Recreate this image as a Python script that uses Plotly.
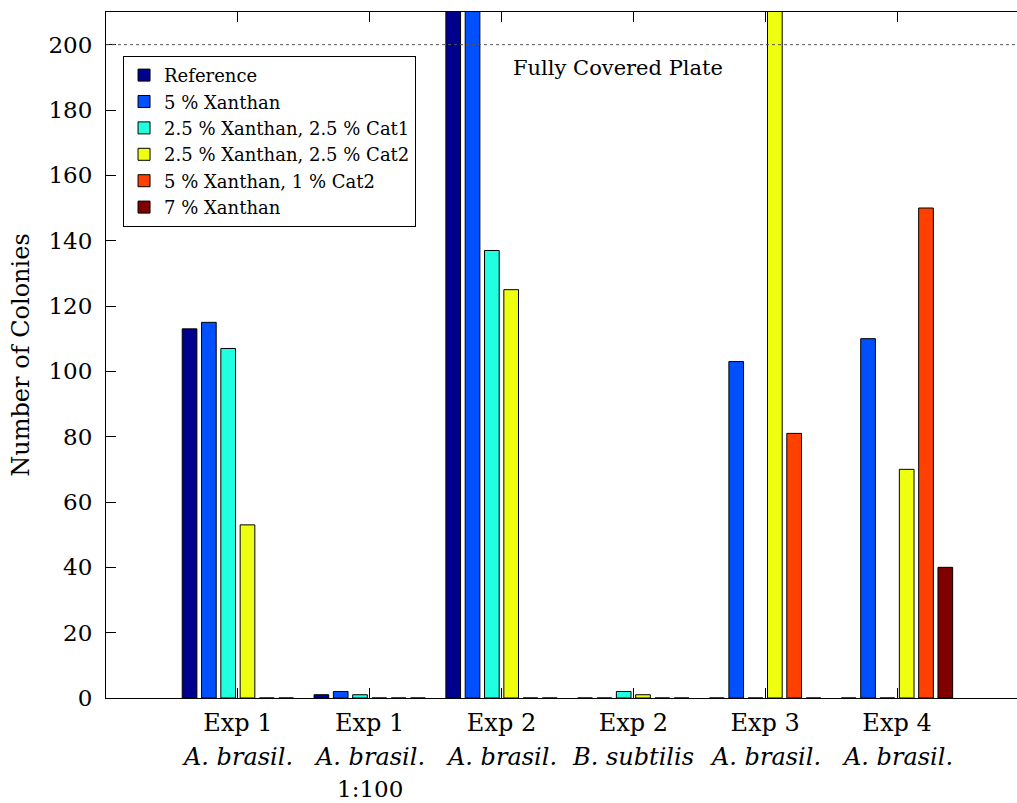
import plotly.graph_objects as go

groups = [1, 2, 3, 4, 5, 6]
exp_labels = ["Exp 1", "Exp 1", "Exp 2", "Exp 2", "Exp 3", "Exp 4"]
species = ["A. brasil.", "A. brasil.", "A. brasil.", "B. subtilis", "A. brasil.", "A. brasil."]
extra = ["", "1:100", "", "", "", ""]

series_names = ["Reference", "5 % Xanthan", "2.5 % Xanthan, 2.5 % Cat1",
                "2.5 % Xanthan, 2.5 % Cat2", "5 % Xanthan, 1 % Cat2", "7 % Xanthan"]
reference = [113, 1, 300, 0, 0, 0]
xanthan5 = [115, 2, 300, 0, 103, 110]
xan25_cat1 = [107, 1, 137, 2, 0, 0]
xan25_cat2 = [53, 0, 125, 1, 300, 70]
xan5_cat2 = [0, 0, 0, 0, 81, 150]
xanthan7 = [0, 0, 0, 0, 0, 40]
series_values = [reference, xanthan5, xan25_cat1, xan25_cat2, xan5_cat2, xanthan7]
colors = ["#00008F", "#0050FF", "#20FFDF", "#EFFF10", "#FF4000", "#800000"]

y_ticks = [0, 20, 40, 60, 80, 100, 120, 140, 160, 180, 200]
covered_level = 200

FONT = "'DejaVu Serif', serif"

fig = go.Figure()
for name, vals, col in zip(series_names, series_values, colors):
    fig.add_trace(go.Bar(x=groups, y=vals, name=name,
                         marker=dict(color=col, line=dict(color="black", width=1))))

fig.add_shape(type="line", xref="paper", yref="y", x0=0, x1=1,
              y0=covered_level, y1=covered_level,
              line=dict(color="#555555", width=1, dash="dot"))
fig.add_annotation(x=3.88, y=193, xref="x", yref="y", text="Fully Covered Plate",
                   showarrow=False, font=dict(family=FONT, size=21, color="black"))

for g, sp, ex in zip(groups, species, extra):
    fig.add_annotation(x=g, y=0, xref="x", yref="paper", yanchor="middle",
                       yshift=-59, text="<i>" + sp + "</i>", showarrow=False,
                       font=dict(family=FONT, size=24, color="black"))
    if ex:
        fig.add_annotation(x=g, y=0, xref="x", yref="paper", yanchor="middle",
                           yshift=-91, text=ex, showarrow=False,
                           font=dict(family=FONT, size=23, color="black"))

fig.update_layout(
    width=1017, height=803,
    margin=dict(l=106, r=0, t=12, b=105),
    plot_bgcolor="white", paper_bgcolor="white",
    barmode="group", bargap=0.121, bargroupgap=0.24,
    font=dict(family=FONT, size=23, color="black"),
    xaxis=dict(range=[0, 6.91], tickvals=groups, ticktext=exp_labels,
               ticks="inside", ticklen=10, tickcolor="black",
               showline=True, linecolor="black", linewidth=1, mirror="ticks",
               showgrid=False, zeroline=False, ticklabelstandoff=3,
               tickfont=dict(family=FONT, size=24)),
    yaxis=dict(range=[0, 210], tickvals=y_ticks, ticks="inside", ticklen=10,
               tickcolor="black", showline=True, linecolor="black", linewidth=1,
               showgrid=False, zeroline=False, ticklabelstandoff=8,
               tickfont=dict(family=FONT, size=23),
               title=dict(text="Number of Colonies", standoff=12,
                          font=dict(family=FONT, size=24))),
    yaxis2=dict(range=[0, 210], tickvals=y_ticks, overlaying="y", side="right",
                ticks="inside", ticklen=3, tickcolor="black", showline=False,
                showgrid=False, zeroline=False, showticklabels=False),
    legend=dict(x=0.0187, y=0.936, xanchor="left", yanchor="top",
                bgcolor="white", bordercolor="black", borderwidth=1,
                font=dict(family=FONT, size=18), tracegroupgap=0),
)

fig.write_html("out.html")
